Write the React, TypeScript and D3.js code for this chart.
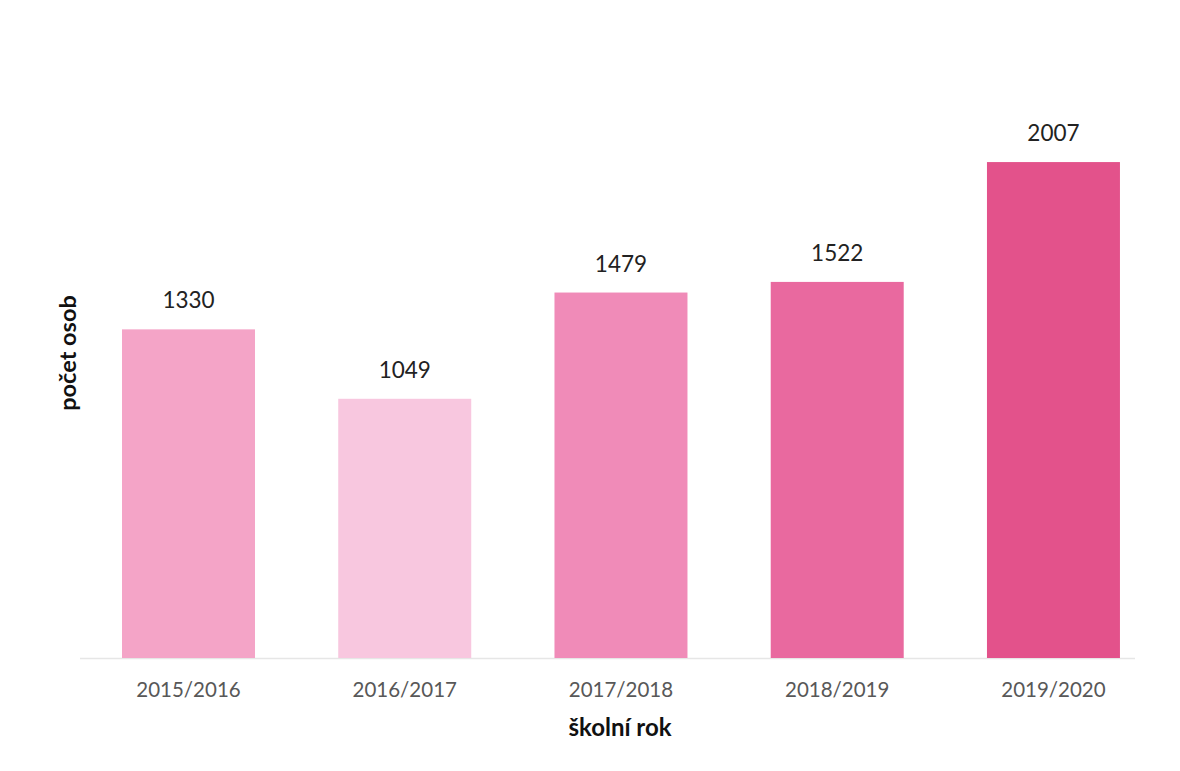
import React from "react";
import * as d3 from "d3";

const categories = ["2015/2016", "2016/2017", "2017/2018", "2018/2019", "2019/2020"];
const values = [1330, 1049, 1479, 1522, 2007];
const colors = ["#f4a4c7", "#f8c7df", "#f08bb8", "#e9699f", "#e3528b"];
const xTitle = "školní rok";
const yTitle = "počet osob";

const W = 1180;
const H = 771;
const FONT = "Lato, 'Open Sans', sans-serif";

export default function App() {
  const x = d3
    .scaleBand<string>()
    .domain(categories)
    .range([78.75, 1163.2])
    .paddingInner(0.385)
    .paddingOuter(0.2);
  const base = 658;
  const y = d3.scaleLinear().domain([0, 2100]).range([base, base - 2100 * 0.2471]);

  return (
    <svg
      width={W}
      height={H}
      style={{ position: "fixed", left: 0, top: 0, background: "#fff" }}
    >
      <rect x={0} y={0} width={W} height={H} fill="#fff" />
      <line x1={80} x2={1135} y1={base + 0.5} y2={base + 0.5} stroke="#e6e6e6" strokeWidth={1.5} />
      {categories.map((c, i) => (
        <g key={c}>
          <rect
            x={x(c)}
            y={y(values[i])}
            width={x.bandwidth()}
            height={base - y(values[i])}
            fill={colors[i]}
          />
          <text
            x={(x(c) as number) + x.bandwidth() / 2}
            y={y(values[i]) - 21}
            textAnchor="middle"
            fontFamily={FONT}
            fontSize={22.5}
            fill="#222"
          >
            {values[i]}
          </text>
          <text
            x={(x(c) as number) + x.bandwidth() / 2}
            y={697}
            textAnchor="middle"
            fontFamily={FONT}
            fontSize={20.5}
            fill="#585858"
          >
            {c}
          </text>
        </g>
      ))}
      <text
        x={620}
        y={736}
        textAnchor="middle"
        fontFamily={FONT}
        fontSize={24}
        fontWeight="bold"
        fill="#111"
      >
        {xTitle}
      </text>
      <text
        transform={`translate(76, 353) rotate(-90)`}
        textAnchor="middle"
        fontFamily={FONT}
        fontSize={23.5}
        fontWeight="bold"
        fill="#111"
      >
        {yTitle}
      </text>
    </svg>
  );
}
